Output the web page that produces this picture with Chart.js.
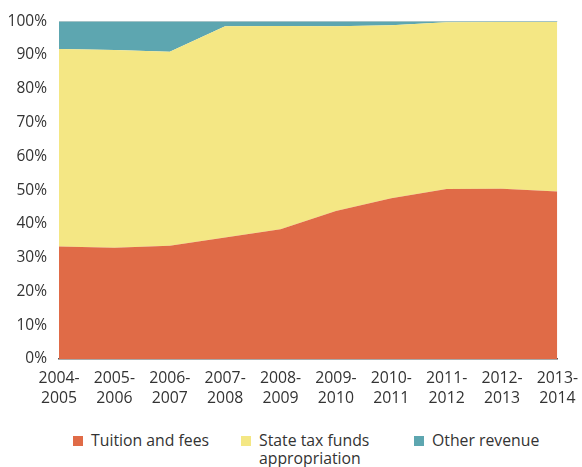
<!DOCTYPE html>
<html><head><meta charset="utf-8">
<script src="https://cdn.jsdelivr.net/npm/chart.js@4"></script>
<style>
html,body{margin:0;padding:0;background:#fff;overflow:hidden;}
#wrap{position:relative;width:582px;height:467px;overflow:hidden;}
#c{position:absolute;left:0;top:0;}
#legend{position:absolute;left:0;top:431px;width:582px;font-family:"Open Sans",sans-serif;font-size:15.8px;color:#333;}
.item{position:absolute;top:0;display:flex;align-items:flex-start;line-height:18px;}
.sw{width:10px;height:10px;margin-top:5px;margin-right:8px;flex:none;}
</style></head>
<body>
<div id="wrap">
<canvas id="c" width="587" height="418"></canvas>
<div id="legend">
 <div class="item" style="left:73px"><span class="sw" style="background:#E06B47"></span><span>Tuition and fees</span></div>
 <div class="item" style="left:241px"><span class="sw" style="background:#F4E784"></span><span>State tax funds<br>appropriation</span></div>
 <div class="item" style="left:414px"><span class="sw" style="background:#5DA6B0"></span><span>Other revenue</span></div>
</div>
</div>
<script>
const categories = [["2004-","2005"],["2005-","2006"],["2006-","2007"],["2007-","2008"],["2008-","2009"],["2009-","2010"],["2010-","2011"],["2011-","2012"],["2012-","2013"],["2013-","2014"]];
const tuition = [33.3, 32.9, 33.5, 36.0, 38.4, 43.8, 47.6, 50.3, 50.4, 49.6];
const stateTax = [58.5, 58.6, 57.5, 62.5, 60.2, 54.7, 51.2, 49.4, 49.4, 50.2];
const other = [8.2, 8.5, 9.0, 1.5, 1.4, 1.5, 1.2, 0.3, 0.2, 0.2];
const yTicks = [0,10,20,30,40,50,60,70,80,90,100];

new Chart(document.getElementById('c'), {
  type: 'line',
  data: {
    labels: categories,
    datasets: [
      {label:'Tuition and fees', data: tuition, backgroundColor:'#E06B47', borderColor:'#E06B47', borderWidth:0, fill:'origin', pointRadius:0, tension:0},
      {label:'State tax funds appropriation', data: stateTax, backgroundColor:'#F4E784', borderColor:'#F4E784', borderWidth:0, fill:'-1', pointRadius:0, tension:0},
      {label:'Other revenue', data: other, backgroundColor:'#5DA6B0', borderColor:'#5DA6B0', borderWidth:0, fill:'-1', pointRadius:0, tension:0}
    ]
  },
  options: {
    responsive: false,
    animation: false,
    layout: {padding: {top: 10, right: 0, left: 0, bottom: 0}},
    plugins: {legend: {display: false}, tooltip: {enabled: false}},
    scales: {
      x: {
        offset: false,
        grid: {display: false, drawTicks: false},
        border: {display: true, color: '#555', width: 1.5},
        ticks: {color: '#333', font: {family: '"Open Sans", sans-serif', size: 15.8, lineHeight: 1.3}, padding: 9, maxRotation: 0, autoSkip: false}
      },
      y: {
        stacked: true,
        min: 0, max: 100,
        afterBuildTicks: (axis) => { axis.ticks = yTicks.map(v => ({value: v})); },
        afterFit: (axis) => { axis.width = 59; },
        grid: {drawTicks: false, color: (ctx) => ctx.tick && ctx.tick.value === 100 ? '#d8d8d8' : 'rgba(0,0,0,0)'},
        border: {display: false},
        ticks: {color: '#333', font: {family: '"Open Sans", sans-serif', size: 15.5}, padding: 12, callback: v => v + '%'}
      }
    }
  }
});
</script>
</body></html>
